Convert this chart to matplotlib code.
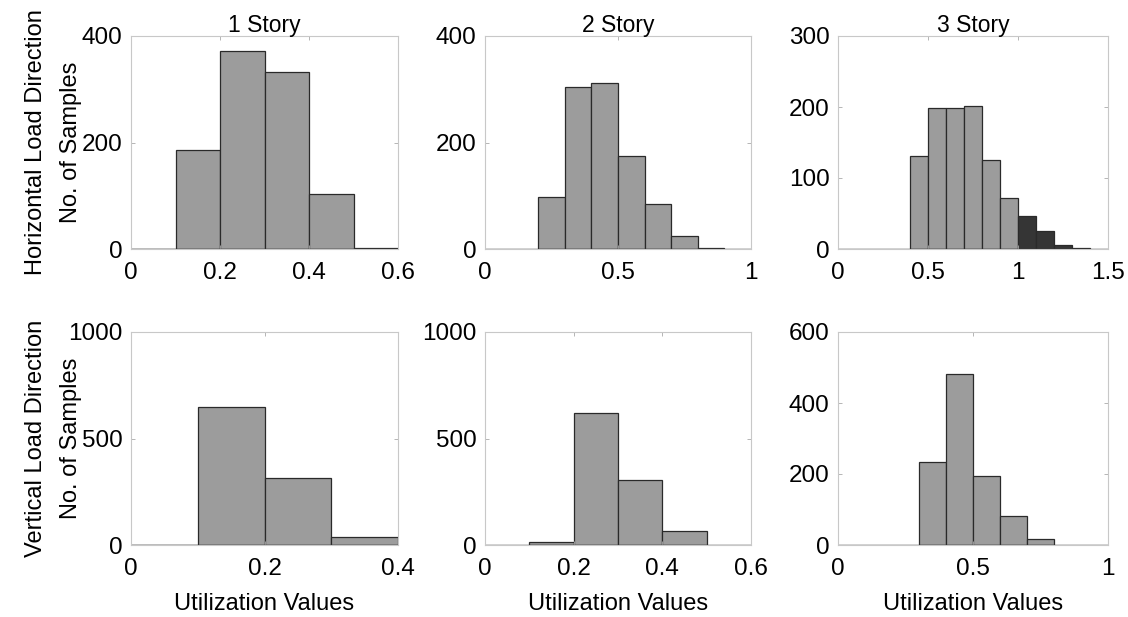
import matplotlib.pyplot as plt
import numpy as np

plt.rcParams['font.family'] = ['Liberation Sans', 'DejaVu Sans']

# Histogram counts (bin width 0.1, left bin edges)
h1_edges = [0.0, 0.1, 0.2, 0.3, 0.4, 0.5]
h1_counts = [0, 185, 372, 333, 103, 2]
h2_edges = [0.2, 0.3, 0.4, 0.5, 0.6, 0.7, 0.8]
h2_counts = [98, 304, 311, 174, 85, 24, 2]
h3_edges = [0.4, 0.5, 0.6, 0.7, 0.8, 0.9, 1.0, 1.1, 1.2, 1.3]
h3_counts = [131, 198, 198, 201, 126, 72, 47, 25, 5, 2]

v1_edges = [0.0, 0.1, 0.2, 0.3]
v1_counts = [0, 647, 315, 39]
v2_edges = [0.1, 0.2, 0.3, 0.4]
v2_counts = [14, 622, 305, 64]
v3_edges = [0.3, 0.4, 0.5, 0.6, 0.7]
v3_counts = [233, 481, 193, 81, 16]

titles = ["1 Story", "2 Story", "3 Story"]
row_labels = ["Horizontal Load Direction", "Vertical Load Direction"]
count_label = "No. of Samples"

panels = [
    (h1_edges, h1_counts, [0, 0.2, 0.4, 0.6], [0, 200, 400]),
    (h2_edges, h2_counts, [0, 0.5, 1], [0, 200, 400]),
    (h3_edges, h3_counts, [0, 0.5, 1, 1.5], [0, 100, 200, 300]),
    (v1_edges, v1_counts, [0, 0.2, 0.4], [0, 500, 1000]),
    (v2_edges, v2_counts, [0, 0.2, 0.4, 0.6], [0, 500, 1000]),
    (v3_edges, v3_counts, [0, 0.5, 1], [0, 200, 400, 600]),
]

fig = plt.figure(figsize=(11.28, 6.17), dpi=100)
W, H = 1128, 617
lefts = [131, 485, 838]
widths = [267, 266, 270]
tops = [36, 332]
ax_h = 213

bar_gray = '#9c9c9c'
dark_gray = '#353535'

for i, (edges, counts, xt, yt) in enumerate(panels):
    r, c = divmod(i, 3)
    ax = fig.add_axes([lefts[c] / W, (H - tops[r] - ax_h) / H, widths[c] / W, ax_h / H])
    edges = np.array(edges)
    colors = [dark_gray if (r == 0 and c == 2 and e >= 0.999) else bar_gray for e in edges]
    ax.bar(edges, counts, width=0.1, align='edge', color=colors,
           edgecolor='#2a2a2a', linewidth=0.9)
    ax.set_xlim(xt[0], xt[-1])
    ax.set_ylim(yt[0], yt[-1])
    ax.axhline(0, color='#222222', linewidth=1.0)
    ax.set_xticks(xt)
    ax.set_xticklabels(['%g' % v for v in xt])
    ax.set_yticks(yt)
    ax.set_yticklabels(['%g' % v for v in yt])
    ax.tick_params(direction='in', length=3, width=0.6, color='#aaaaaa',
                   labelsize=17.5, top=True, right=True)
    ax.tick_params(axis='x', pad=9.5)
    ax.tick_params(axis='y', pad=6)
    for s in ax.spines.values():
        s.set_color('#c8c8c8')
        s.set_linewidth(0.8)
    if r == 0:
        ax.set_title(titles[c], fontsize=16.5, pad=3)
    if r == 1:
        ax.set_xlabel("Utilization Values", fontsize=17, labelpad=9)
    if c == 0:
        # two-line y label, each line placed on its own
        yc = 1 - (tops[r] + ax_h / 2) / H
        fig.text(36 / W, yc, row_labels[r], rotation=90, fontsize=17,
                 ha='center', va='center')
        fig.text(71 / W, yc, count_label, rotation=90, fontsize=17,
                 ha='center', va='center')

fig.savefig('out.png', dpi=100)
